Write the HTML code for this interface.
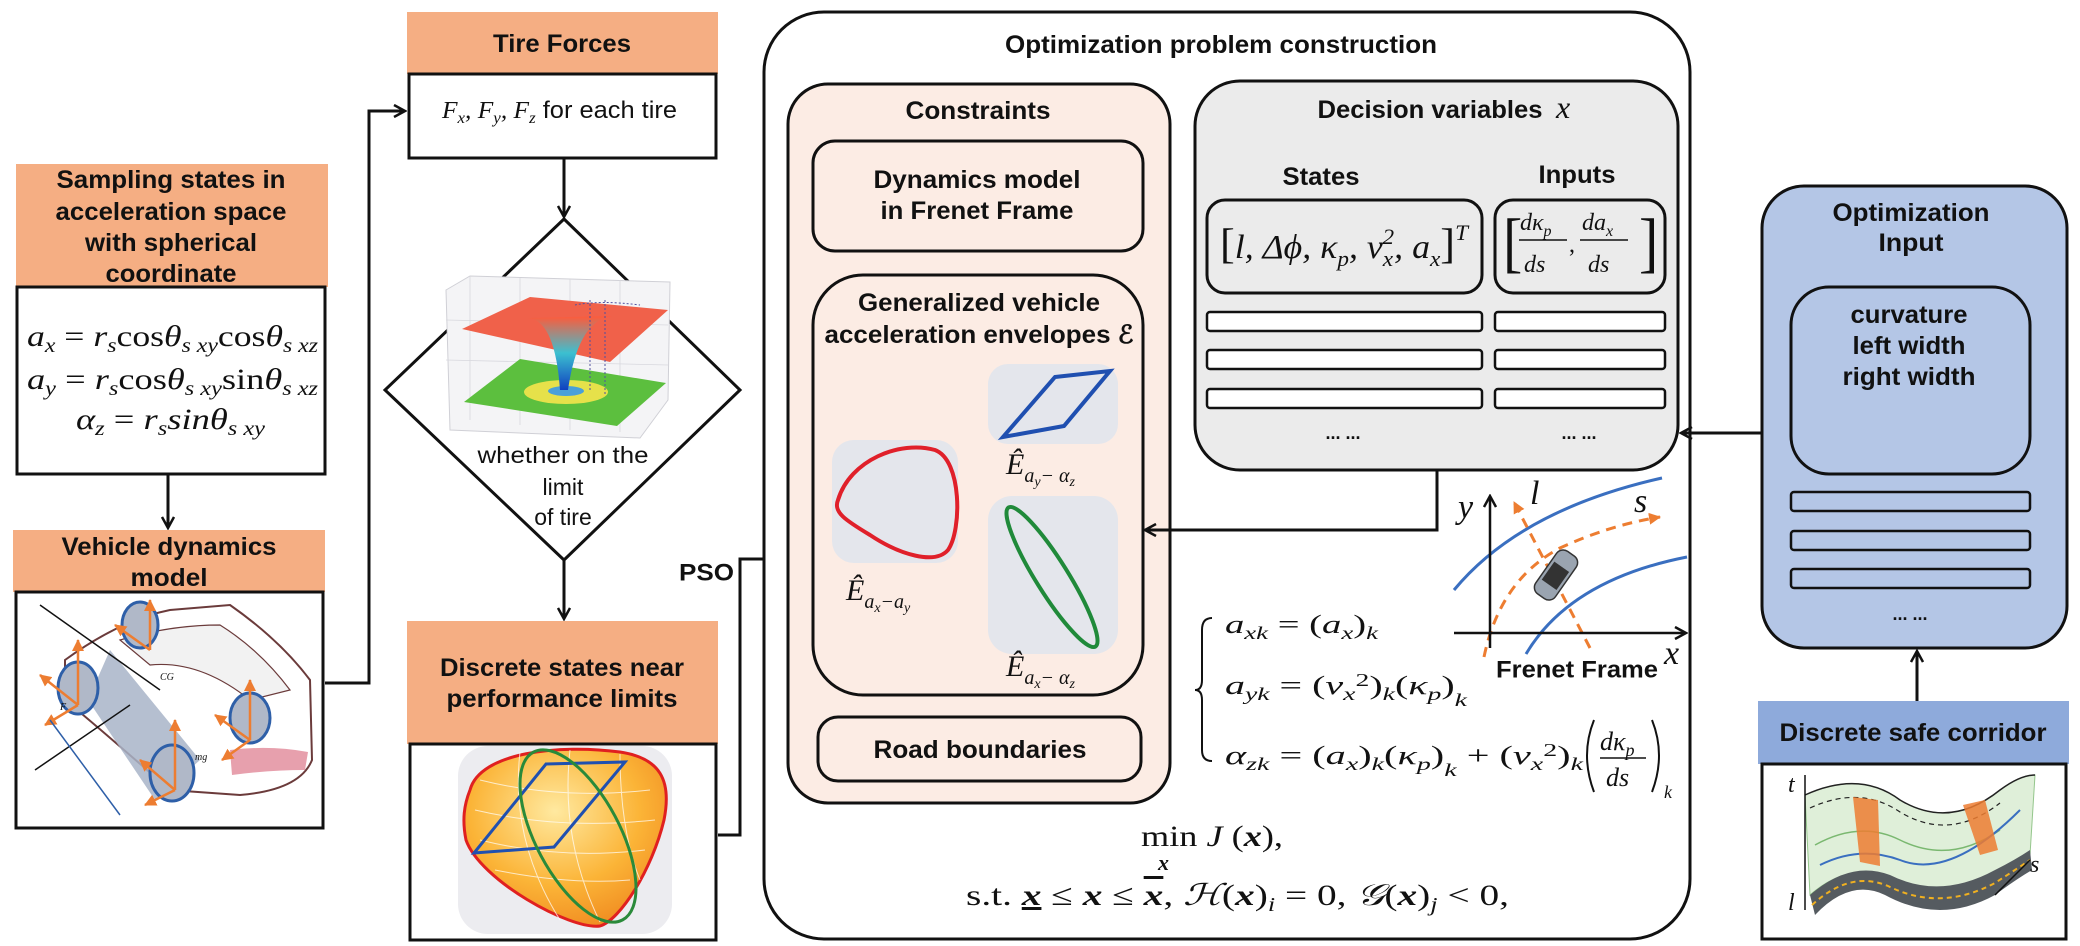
<!DOCTYPE html>
<html><head><meta charset="utf-8"><style>
html,body{margin:0;padding:0;background:#fff;}
svg{display:block;}
.h{font-family:"Liberation Sans",Arial,sans-serif;font-weight:bold;fill:#111;}
.n{font-family:"Liberation Sans",Arial,sans-serif;fill:#111;}
.m{font-family:"Liberation Serif","DejaVu Serif",serif;font-style:italic;fill:#111;}
.r{font-family:"Liberation Serif","DejaVu Serif",serif;fill:#111;}
</style></head><body>
<svg width="2080" height="946" viewBox="0 0 2080 946" xmlns="http://www.w3.org/2000/svg">
<defs>
<marker id="ar" markerWidth="14" markerHeight="14" refX="12" refY="7" orient="auto" markerUnits="userSpaceOnUse"><path d="M1 1 L12 7 L1 13" fill="none" stroke="#111" stroke-width="2.5"/></marker>
<marker id="oa" markerWidth="14" markerHeight="14" refX="11" refY="7" orient="auto" markerUnits="userSpaceOnUse"><path d="M0 1 L12 7 L0 13 Z" fill="#ed7d31"/></marker>
<linearGradient id="fun" x1="0" y1="0" x2="0" y2="1"><stop offset="0" stop-color="#ff5a3a"/><stop offset="0.5" stop-color="#3cc0d0"/><stop offset="1" stop-color="#1040c0"/></linearGradient>
<radialGradient id="env" cx="0.45" cy="0.35" r="0.7"><stop offset="0" stop-color="#ffe9a0"/><stop offset="0.6" stop-color="#fbb437"/><stop offset="1" stop-color="#f08a20"/></radialGradient>
</defs>

<!-- Sampling -->
<g>
<rect x="16" y="164" width="312" height="123" fill="#f5ae83"/>
<text class="h" font-size="25" text-anchor="middle" x="171" y="180" dominant-baseline="central" textLength="229" lengthAdjust="spacingAndGlyphs">Sampling states in</text>
<text class="h" font-size="25" text-anchor="middle" x="171" y="212" dominant-baseline="central" textLength="231" lengthAdjust="spacingAndGlyphs">acceleration space</text>
<text class="h" font-size="25" text-anchor="middle" x="171" y="243" dominant-baseline="central" textLength="172" lengthAdjust="spacingAndGlyphs">with spherical</text>
<text class="h" font-size="25" text-anchor="middle" x="171" y="274" dominant-baseline="central" textLength="131" lengthAdjust="spacingAndGlyphs">coordinate</text>
<rect x="17" y="287" width="308" height="187" fill="#fff" stroke="#111" stroke-width="3"/>
<text class="m" font-size="30" x="27" y="346" textLength="291" lengthAdjust="spacingAndGlyphs">a<tspan font-size="20" dy="6">x</tspan><tspan dy="-6" font-style="normal"> = </tspan>r<tspan font-size="20" dy="6">s</tspan><tspan dy="-6" font-style="normal">cos</tspan>θ<tspan font-size="20" dy="6">s xy</tspan><tspan dy="-6" font-style="normal">cos</tspan>θ<tspan font-size="20" dy="6">s xz</tspan></text>
<text class="m" font-size="30" x="27" y="389" textLength="291" lengthAdjust="spacingAndGlyphs">a<tspan font-size="20" dy="6">y</tspan><tspan dy="-6" font-style="normal"> = </tspan>r<tspan font-size="20" dy="6">s</tspan><tspan dy="-6" font-style="normal">cos</tspan>θ<tspan font-size="20" dy="6">s xy</tspan><tspan dy="-6" font-style="normal">sin</tspan>θ<tspan font-size="20" dy="6">s xz</tspan></text>
<text class="m" font-size="30" x="76" y="429" textLength="189" lengthAdjust="spacingAndGlyphs">α<tspan font-size="20" dy="6">z</tspan><tspan dy="-6" font-style="normal"> = </tspan>r<tspan font-size="20" dy="6">s</tspan><tspan dy="-6">sin</tspan>θ<tspan font-size="20" dy="6">s xy</tspan></text>
</g>
<line x1="168" y1="474" x2="168" y2="528" stroke="#111" stroke-width="3" marker-end="url(#ar)"/>

<!-- Vehicle dynamics -->
<g>
<rect x="13" y="530" width="312" height="62" fill="#f5ae83"/>
<text class="h" font-size="25" text-anchor="middle" x="169" y="547" dominant-baseline="central" textLength="215" lengthAdjust="spacingAndGlyphs">Vehicle dynamics</text>
<text class="h" font-size="25" text-anchor="middle" x="169" y="578" dominant-baseline="central" textLength="77" lengthAdjust="spacingAndGlyphs">model</text>
<rect x="16" y="592" width="307" height="236" fill="#fff" stroke="#111" stroke-width="3"/>
<g>
<path d="M65 660 Q120 620 170 610 L230 605 Q280 640 310 680 L312 760 Q300 790 240 795 L170 790 Q90 720 65 700 Z" fill="#fff" stroke="#6b3b3b" stroke-width="2"/>
<path d="M120 640 Q170 625 220 625 Q260 650 290 690 L250 700 Q200 660 150 665 Z" fill="#f2f2f2" stroke="#6b3b3b" stroke-width="1.2"/>
<path d="M110 650 L200 760 L155 800 L88 700 Z" fill="#a8b4c8" opacity="0.85"/>
<path d="M230 750 Q270 745 308 752 L305 770 Q270 770 232 775 Z" fill="#e7a0ad"/>
<ellipse cx="78" cy="688" rx="20" ry="26" fill="#b0b8c8" stroke="#2e5fa8" stroke-width="3"/>
<ellipse cx="140" cy="625" rx="18" ry="23" fill="#b0b8c8" stroke="#2e5fa8" stroke-width="3"/>
<ellipse cx="172" cy="773" rx="22" ry="28" fill="#b0b8c8" stroke="#2e5fa8" stroke-width="3"/>
<ellipse cx="250" cy="718" rx="20" ry="25" fill="#b0b8c8" stroke="#2e5fa8" stroke-width="3"/>
<g stroke="#ed7d31" stroke-width="2.5" fill="none">
<line x1="78" y1="705" x2="78" y2="640" marker-end="url(#oa)"/><line x1="78" y1="705" x2="40" y2="675" marker-end="url(#oa)"/><line x1="78" y1="705" x2="45" y2="725" marker-end="url(#oa)"/>
<line x1="150" y1="650" x2="150" y2="600" marker-end="url(#oa)"/><line x1="150" y1="650" x2="115" y2="625" marker-end="url(#oa)"/>
<line x1="175" y1="790" x2="175" y2="720" marker-end="url(#oa)"/><line x1="175" y1="790" x2="140" y2="760" marker-end="url(#oa)"/><line x1="175" y1="790" x2="145" y2="805" marker-end="url(#oa)"/>
<line x1="250" y1="740" x2="250" y2="680" marker-end="url(#oa)"/><line x1="250" y1="740" x2="215" y2="715" marker-end="url(#oa)"/><line x1="250" y1="740" x2="222" y2="760" marker-end="url(#oa)"/>
</g>
<line x1="40" y1="605" x2="160" y2="690" stroke="#111" stroke-width="1.5"/>
<line x1="35" y1="770" x2="130" y2="705" stroke="#111" stroke-width="1.5"/>
<line x1="50" y1="720" x2="120" y2="815" stroke="#2e5fa8" stroke-width="1.5"/>
<text class="m" font-size="10" x="60" y="710">F</text><text class="m" font-size="10" x="195" y="760">mg</text><text class="m" font-size="10" x="160" y="680">CG</text>
</g>
</g>
<polyline points="325,683 369,683 369,111 405,111" fill="none" stroke="#111" stroke-width="3" marker-end="url(#ar)"/>

<!-- Tire forces -->
<g>
<rect x="407" y="12" width="311" height="62" fill="#f5ae83"/>
<text class="h" font-size="25" text-anchor="middle" x="562" y="44" dominant-baseline="central" textLength="138" lengthAdjust="spacingAndGlyphs">Tire Forces</text>
<rect x="409" y="74" width="307" height="84" fill="#fff" stroke="#111" stroke-width="3"/>
<text class="m" font-size="24" x="442" y="118" textLength="235" lengthAdjust="spacingAndGlyphs">F<tspan font-size="16" dy="5">x</tspan><tspan dy="-5">, F</tspan><tspan font-size="16" dy="5">y</tspan><tspan dy="-5">, F</tspan><tspan font-size="16" dy="5">z</tspan><tspan dy="-5" class="n" font-style="normal" font-family="Liberation Sans"> for each tire</tspan></text>
</g>
<line x1="564" y1="158" x2="564" y2="217" stroke="#111" stroke-width="3" marker-end="url(#ar)"/>

<!-- Diamond -->
<g>
<polygon points="564,219 740,390 564,560 385,390" fill="#fff" stroke="#111" stroke-width="3"/>
<g>
<path d="M446 290 L470 276 L670 282 L668 400 L640 438 L450 430 Z" fill="#f4f4f6" stroke="#d0d0d6" stroke-width="1"/>
<g stroke="#d8d8de" stroke-width="0.8"><line x1="470" y1="276" x2="470" y2="420"/><line x1="520" y1="278" x2="520" y2="425"/><line x1="570" y1="279" x2="570" y2="430"/><line x1="620" y1="280" x2="620" y2="432"/><line x1="446" y1="320" x2="668" y2="325"/><line x1="446" y1="360" x2="668" y2="365"/></g>
<polygon points="464,402 520,359 666,383 617,426" fill="#5cbf3e"/>
<ellipse cx="566" cy="392" rx="42" ry="12" fill="#e6e14a"/>
<ellipse cx="566" cy="391" rx="18" ry="5" fill="#4aa0d8"/>
<polygon points="462,329 530,297 668,310 610,362" fill="#f0614a"/>
<path d="M528 318 Q555 320 560 390 L568 390 Q578 320 612 316 Z" fill="url(#fun)"/>
<g stroke="#5050a0" stroke-width="1" stroke-dasharray="2,2" fill="none"><line x1="590" y1="300" x2="590" y2="390"/><line x1="605" y1="300" x2="605" y2="395"/><path d="M575 305 Q600 300 640 305"/></g>
</g>
<text class="n" font-size="23" text-anchor="middle" x="563" y="455" dominant-baseline="central" textLength="171" lengthAdjust="spacingAndGlyphs">whether on the</text>
<text class="n" font-size="23" text-anchor="middle" x="563" y="487" dominant-baseline="central">limit</text>
<text class="n" font-size="23" text-anchor="middle" x="563" y="517" dominant-baseline="central">of tire</text>
</g>
<line x1="564" y1="560" x2="564" y2="619" stroke="#111" stroke-width="3" marker-end="url(#ar)"/>

<!-- Discrete states -->
<g>
<rect x="407" y="621" width="311" height="123" fill="#f5ae83"/>
<text class="h" font-size="25" text-anchor="middle" x="562" y="668" dominant-baseline="central" textLength="244" lengthAdjust="spacingAndGlyphs">Discrete states near</text>
<text class="h" font-size="25" text-anchor="middle" x="562" y="699" dominant-baseline="central" textLength="231" lengthAdjust="spacingAndGlyphs">performance limits</text>
<rect x="410" y="744" width="306" height="196" fill="#fff" stroke="#111" stroke-width="3"/>
<g>
<rect x="458" y="746" width="214" height="188" rx="30" fill="#ececf0"/>
<path d="M470 790 C480 752 560 744 620 752 C660 758 672 780 664 820 C652 870 620 920 600 926 C570 930 480 880 466 840 C462 820 464 805 470 790 Z" fill="url(#env)" stroke="#e02020" stroke-width="3"/>
<g stroke="#fff" stroke-width="1" opacity="0.7" fill="none"><path d="M480 780 Q560 800 650 790"/><path d="M475 810 Q560 830 655 820"/><path d="M480 840 Q560 860 645 850"/><path d="M495 870 Q570 885 630 880"/><path d="M520 752 Q510 840 560 920"/><path d="M570 750 Q560 840 600 922"/><path d="M620 754 Q620 830 640 880"/></g>
<polygon points="546,764 625,762 554,847 474,853" fill="none" stroke="#2050b0" stroke-width="3"/>
<ellipse cx="578" cy="836" rx="95" ry="42" transform="rotate(62 578 836)" fill="none" stroke="#2a8a3a" stroke-width="3"/>
</g>
</g>
<polyline points="718,835 740,835 740,559 810,559" fill="none" stroke="#111" stroke-width="3" marker-end="url(#ar)"/>
<text class="h" font-size="24" x="679" y="573" dominant-baseline="central" textLength="55" lengthAdjust="spacingAndGlyphs">PSO</text>

<!-- Optimization problem construction -->
<g>
<rect x="764" y="12" width="926" height="927" rx="60" fill="#fff" stroke="#111" stroke-width="3"/>
<text class="h" font-size="25" text-anchor="middle" x="1221" y="45" dominant-baseline="central" textLength="432" lengthAdjust="spacingAndGlyphs">Optimization problem construction</text>

<g>
<rect x="788" y="84" width="382" height="719" rx="40" fill="#fcece4" stroke="#111" stroke-width="3"/>
<text class="h" font-size="25" text-anchor="middle" x="978" y="111" dominant-baseline="central" textLength="145" lengthAdjust="spacingAndGlyphs">Constraints</text>
<rect x="813" y="141" width="330" height="110" rx="22" fill="#fcece4" stroke="#111" stroke-width="3"/>
<text class="h" font-size="25" text-anchor="middle" x="977" y="180" dominant-baseline="central" textLength="207" lengthAdjust="spacingAndGlyphs">Dynamics model</text>
<text class="h" font-size="25" text-anchor="middle" x="977" y="211" dominant-baseline="central" textLength="193" lengthAdjust="spacingAndGlyphs">in Frenet Frame</text>
<rect x="813" y="275" width="330" height="420" rx="50" fill="#fcece4" stroke="#111" stroke-width="3"/>
<text class="h" font-size="25" text-anchor="middle" x="979" y="303" dominant-baseline="central" textLength="242" lengthAdjust="spacingAndGlyphs">Generalized vehicle</text>
<text class="h" font-size="25" text-anchor="middle" x="979" y="335" dominant-baseline="central" textLength="309" lengthAdjust="spacingAndGlyphs">acceleration envelopes ℰ</text>
<rect x="832" y="440" width="126" height="123" rx="22" fill="#e4e6ec"/>
<path d="M838 500 C850 460 900 440 935 450 C962 460 962 530 948 550 C935 565 900 555 870 535 C845 520 833 512 838 500 Z" fill="none" stroke="#e0202a" stroke-width="4"/>
<rect x="988" y="364" width="130" height="80" rx="20" fill="#e4e6ec"/>
<polygon points="1055,377 1110,371 1064,426 1003,437" fill="none" stroke="#1f4fb0" stroke-width="4"/>
<rect x="988" y="496" width="130" height="158" rx="24" fill="#e4e6ec"/>
<ellipse cx="1052" cy="577" rx="82" ry="16" transform="rotate(58 1052 577)" fill="none" stroke="#208a3a" stroke-width="4"/>
<text class="m" font-size="30" x="846" y="600">Ê<tspan font-size="20" dy="8">a<tspan font-size="14" dy="4">x</tspan><tspan dy="-4">−a</tspan><tspan font-size="14" dy="4">y</tspan></tspan></text>
<text class="m" font-size="30" x="1006" y="474">Ê<tspan font-size="20" dy="8">a<tspan font-size="14" dy="4">y</tspan><tspan dy="-4">− α</tspan><tspan font-size="14" dy="4">z</tspan></tspan></text>
<text class="m" font-size="30" x="1006" y="676">Ê<tspan font-size="20" dy="8">a<tspan font-size="14" dy="4">x</tspan><tspan dy="-4">− α</tspan><tspan font-size="14" dy="4">z</tspan></tspan></text>
<rect x="818" y="717" width="323" height="64" rx="20" fill="#fcece4" stroke="#111" stroke-width="3"/>
<text class="h" font-size="25" text-anchor="middle" x="980" y="750" dominant-baseline="central" textLength="213" lengthAdjust="spacingAndGlyphs">Road boundaries</text>
</g>

<g>
<rect x="1195" y="81" width="483" height="389" rx="45" fill="#ebebeb" stroke="#111" stroke-width="3"/>
<text class="h" font-size="25" text-anchor="middle" x="1430" y="110" dominant-baseline="central" textLength="225" lengthAdjust="spacingAndGlyphs">Decision variables</text>
<text class="m" font-size="32" x="1556" y="118">x</text>
<text class="h" font-size="25" text-anchor="middle" x="1321" y="177" dominant-baseline="central" textLength="77" lengthAdjust="spacingAndGlyphs">States</text>
<text class="h" font-size="25" text-anchor="middle" x="1577" y="175" dominant-baseline="central" textLength="77" lengthAdjust="spacingAndGlyphs">Inputs</text>
<rect x="1207" y="200" width="275" height="93" rx="18" fill="#ebebeb" stroke="#111" stroke-width="3"/>
<text class="m" font-size="34" x="1220" y="258" textLength="248" lengthAdjust="spacingAndGlyphs"><tspan font-style="normal" font-size="42">[</tspan>l, Δϕ, κ<tspan font-size="22" dy="8">p</tspan><tspan dy="-8">, v</tspan><tspan font-size="22" dy="8">x</tspan><tspan font-size="22" dy="-22" dx="-10">2</tspan><tspan dy="14">, a</tspan><tspan font-size="22" dy="8">x</tspan><tspan dy="-8" font-style="normal" font-size="42">]</tspan><tspan font-size="22" dy="-18">T</tspan></text>
<rect x="1495" y="200" width="170" height="93" rx="18" fill="#ebebeb" stroke="#111" stroke-width="3"/>
<text class="r" font-size="58" x="1503" y="266" transform="scale(1 1.15) translate(0 -36)">[</text>
<text class="r" font-size="58" x="1639" y="266" transform="scale(1 1.15) translate(0 -36)">]</text>
<text class="m" font-size="24" x="1520" y="230">dκ<tspan font-size="16" dy="6">p</tspan></text>
<line x1="1519" y1="240" x2="1567" y2="240" stroke="#111" stroke-width="1.5"/>
<text class="m" font-size="24" x="1524" y="272">ds</text>
<text class="r" font-size="24" x="1569" y="252">,</text>
<text class="m" font-size="24" x="1582" y="230">da<tspan font-size="16" dy="6">x</tspan></text>
<line x1="1580" y1="240" x2="1628" y2="240" stroke="#111" stroke-width="1.5"/>
<text class="m" font-size="24" x="1588" y="272">ds</text>
<g fill="#fff" stroke="#111" stroke-width="2.5">
<rect x="1207" y="312" width="275" height="19" rx="3"/>
<rect x="1495" y="312" width="170" height="19" rx="3"/>
<rect x="1207" y="350" width="275" height="19" rx="3"/>
<rect x="1495" y="350" width="170" height="19" rx="3"/>
<rect x="1207" y="389" width="275" height="19" rx="3"/>
<rect x="1495" y="389" width="170" height="19" rx="3"/>
</g>
<text class="h" font-size="18" text-anchor="middle" x="1343" y="433" dominant-baseline="central">... ...</text>
<text class="h" font-size="18" text-anchor="middle" x="1579" y="433" dominant-baseline="central">... ...</text>
</g>
<polyline points="1437,470 1437,530 1145,530" fill="none" stroke="#111" stroke-width="3" marker-end="url(#ar)"/>

<g>
<path d="M1454 590 Q1520 510 1662 478" fill="none" stroke="#3a6fc0" stroke-width="3"/>
<path d="M1526 654 Q1570 580 1687 557" fill="none" stroke="#3a6fc0" stroke-width="3"/>
<path d="M1484 657 Q1500 580 1560 548 Q1610 525 1660 517" fill="none" stroke="#ed7d31" stroke-width="3" stroke-dasharray="10,7" marker-end="url(#oa)"/>
<line x1="1590" y1="648" x2="1514" y2="502" stroke="#ed7d31" stroke-width="3" stroke-dasharray="10,7" marker-end="url(#oa)"/>
<line x1="1490" y1="648" x2="1490" y2="496" stroke="#111" stroke-width="2.5" marker-end="url(#ar)"/>
<line x1="1454" y1="633" x2="1686" y2="633" stroke="#111" stroke-width="2.5" marker-end="url(#ar)"/>
<g transform="rotate(-55 1556 575)"><rect x="1530" y="563" width="52" height="24" rx="8" fill="#9aa4b0" stroke="#333" stroke-width="1.5"/><rect x="1544" y="566" width="22" height="18" fill="#333"/></g>
<text class="m" font-size="34" x="1458" y="518">y</text>
<text class="m" font-size="34" x="1530" y="504">l</text>
<text class="m" font-size="34" x="1634" y="512">s</text>
<text class="m" font-size="34" x="1664" y="664">x</text>
<text class="h" font-size="24" text-anchor="middle" x="1577" y="670" dominant-baseline="central" textLength="162" lengthAdjust="spacingAndGlyphs">Frenet Frame</text>
</g>

<g>
<path d="M1212 618 Q1202 618 1202 630 L1202 680 Q1202 690 1195 690 Q1202 690 1202 700 L1202 750 Q1202 761 1212 761" fill="none" stroke="#111" stroke-width="2"/>
<text class="m" font-size="26" x="1225" y="633" textLength="153" lengthAdjust="spacingAndGlyphs">a<tspan font-size="18" dy="6">xk</tspan><tspan dy="-6" font-style="normal"> = (</tspan>a<tspan font-size="18" dy="6">x</tspan><tspan dy="-6" font-style="normal">)</tspan><tspan font-size="18" dy="6">k</tspan></text>
<text class="m" font-size="26" x="1225" y="694" textLength="242" lengthAdjust="spacingAndGlyphs">a<tspan font-size="18" dy="6">yk</tspan><tspan dy="-6" font-style="normal"> = (</tspan>v<tspan font-size="18" dy="6">x</tspan><tspan font-size="18" dy="-14" font-style="normal">2</tspan><tspan dy="8" font-style="normal">)</tspan><tspan font-size="18" dy="6">k</tspan><tspan dy="-6" font-style="normal">(</tspan>κ<tspan font-size="18" dy="6">p</tspan><tspan dy="-6" font-style="normal">)</tspan><tspan font-size="18" dy="12">k</tspan></text>
<text class="m" font-size="26" x="1225" y="764" textLength="358" lengthAdjust="spacingAndGlyphs">α<tspan font-size="18" dy="6">zk</tspan><tspan dy="-6" font-style="normal"> = (</tspan>a<tspan font-size="18" dy="6">x</tspan><tspan dy="-6" font-style="normal">)</tspan><tspan font-size="18" dy="6">k</tspan><tspan dy="-6" font-style="normal">(</tspan>κ<tspan font-size="18" dy="6">p</tspan><tspan dy="-6" font-style="normal">)</tspan><tspan font-size="18" dy="12">k</tspan><tspan dy="-12" font-style="normal"> + (</tspan>v<tspan font-size="18" dy="6">x</tspan><tspan font-size="18" dy="-14" font-style="normal">2</tspan><tspan dy="8" font-style="normal">)</tspan><tspan font-size="18" dy="6">k</tspan></text>
<path d="M1594 720 Q1580 755 1594 792" fill="none" stroke="#111" stroke-width="2"/>
<path d="M1652 720 Q1666 755 1652 792" fill="none" stroke="#111" stroke-width="2"/>
<text class="m" font-size="26" x="1600" y="750">dκ<tspan font-size="18" dy="6">p</tspan></text>
<line x1="1600" y1="758" x2="1646" y2="758" stroke="#111" stroke-width="1.5"/>
<text class="m" font-size="26" x="1606" y="786">ds</text>
<text class="m" font-size="18" x="1664" y="798">k</text>
</g>

<g>
<text class="r" font-size="30" x="1141" y="846" textLength="142" lengthAdjust="spacingAndGlyphs">min <tspan font-style="italic">J</tspan> (<tspan font-weight="bold" font-style="italic">x</tspan>),</text>
<text class="r" font-size="22" font-weight="bold" font-style="italic" x="1158" y="870">x</text>
<text class="r" font-size="30" x="966" y="905" textLength="543" lengthAdjust="spacingAndGlyphs">s.t. <tspan font-weight="bold" font-style="italic" text-decoration="underline">x</tspan> ≤ <tspan font-weight="bold" font-style="italic">x</tspan> ≤ <tspan font-weight="bold" font-style="italic" text-decoration="overline">x</tspan>, <tspan font-style="italic">ℋ</tspan>(<tspan font-weight="bold" font-style="italic">x</tspan>)<tspan font-size="20" dy="6" font-style="italic">i</tspan><tspan dy="-6"> = 0, </tspan><tspan font-style="italic">𝒢</tspan>(<tspan font-weight="bold" font-style="italic">x</tspan>)<tspan font-size="20" dy="6" font-style="italic">j</tspan><tspan dy="-6"> &lt; 0,</tspan></text>
</g>
</g>

<!-- Optimization input -->
<g>
<rect x="1762" y="186" width="305" height="462" rx="42" fill="#b4c6e6" stroke="#111" stroke-width="3"/>
<text class="h" font-size="25" text-anchor="middle" x="1911" y="213" dominant-baseline="central" textLength="157" lengthAdjust="spacingAndGlyphs">Optimization</text>
<text class="h" font-size="25" text-anchor="middle" x="1911" y="243" dominant-baseline="central" textLength="65" lengthAdjust="spacingAndGlyphs">Input</text>
<rect x="1791" y="287" width="239" height="187" rx="38" fill="#b4c6e6" stroke="#111" stroke-width="3"/>
<text class="h" font-size="25" text-anchor="middle" x="1909" y="315" dominant-baseline="central" textLength="117" lengthAdjust="spacingAndGlyphs">curvature</text>
<text class="h" font-size="25" text-anchor="middle" x="1909" y="346" dominant-baseline="central" textLength="113" lengthAdjust="spacingAndGlyphs">left width</text>
<text class="h" font-size="25" text-anchor="middle" x="1909" y="377" dominant-baseline="central" textLength="133" lengthAdjust="spacingAndGlyphs">right width</text>
<g fill="#b4c6e6" stroke="#111" stroke-width="2.5">
<rect x="1791" y="492" width="239" height="19" rx="3"/>
<rect x="1791" y="531" width="239" height="19" rx="3"/>
<rect x="1791" y="569" width="239" height="19" rx="3"/>
</g>
<text class="h" font-size="18" text-anchor="middle" x="1910" y="614" dominant-baseline="central">... ...</text>
</g>
<line x1="1762" y1="433" x2="1681" y2="433" stroke="#111" stroke-width="3" marker-end="url(#ar)"/>
<line x1="1917" y1="701" x2="1917" y2="651" stroke="#111" stroke-width="3" marker-end="url(#ar)"/>

<!-- Discrete safe corridor -->
<g>
<rect x="1758" y="701" width="311" height="63" fill="#8eaadb"/>
<text class="h" font-size="25" text-anchor="middle" x="1913" y="733" dominant-baseline="central" textLength="267" lengthAdjust="spacingAndGlyphs">Discrete safe corridor</text>
<rect x="1762" y="764" width="304" height="175" fill="#fff" stroke="#111" stroke-width="3"/>
<g>
<path d="M1805 795 Q1860 770 1900 800 Q1950 830 2000 790 Q2020 775 2035 775 L2030 855 Q2010 860 1995 880 Q1940 910 1890 880 Q1850 860 1810 895 Z" fill="#d8ecd0" opacity="0.8" stroke="#7ab870" stroke-width="1"/>
<path d="M1810 895 Q1850 860 1890 875 Q1940 900 1995 870 Q2015 860 2030 850 L2032 870 Q2015 880 1995 895 Q1940 925 1885 895 Q1850 878 1815 915 Z" fill="#555b60"/>
<path d="M1812 905 Q1850 870 1888 886 Q1940 912 1995 883 Q2015 870 2030 860" fill="none" stroke="#f0b020" stroke-width="2" stroke-dasharray="5,4"/>
<path d="M1805 795 Q1860 770 1900 800 Q1950 830 2000 790 Q2020 775 2035 775" fill="none" stroke="#222" stroke-width="1.5"/>
<path d="M1810 808 Q1860 785 1900 812 Q1950 842 2000 803" fill="none" stroke="#222" stroke-width="1.2" stroke-dasharray="5,4"/>
<path d="M1815 845 Q1860 820 1900 840 Q1950 865 2000 830" fill="none" stroke="#7ab870" stroke-width="1.5"/>
<path d="M1820 865 Q1860 845 1900 860 Q1950 880 2020 810" fill="none" stroke="#3a6fc0" stroke-width="2"/>
<polygon points="1853,797 1878,800 1880,866 1860,862" fill="#ed7d31" opacity="0.85"/>
<polygon points="1963,805 1985,800 1998,850 1980,855" fill="#ed7d31" opacity="0.85"/>
<line x1="1805" y1="910" x2="1805" y2="775" stroke="#111" stroke-width="1.5"/>
<line x1="1995" y1="895" x2="2030" y2="860" stroke="#111" stroke-width="1.5"/>
<text class="m" font-size="24" x="1788" y="792">t</text>
<text class="m" font-size="24" x="2030" y="872">s</text>
<text class="m" font-size="24" x="1788" y="910">l</text>
</g>
</g>
</svg>
</body></html>
